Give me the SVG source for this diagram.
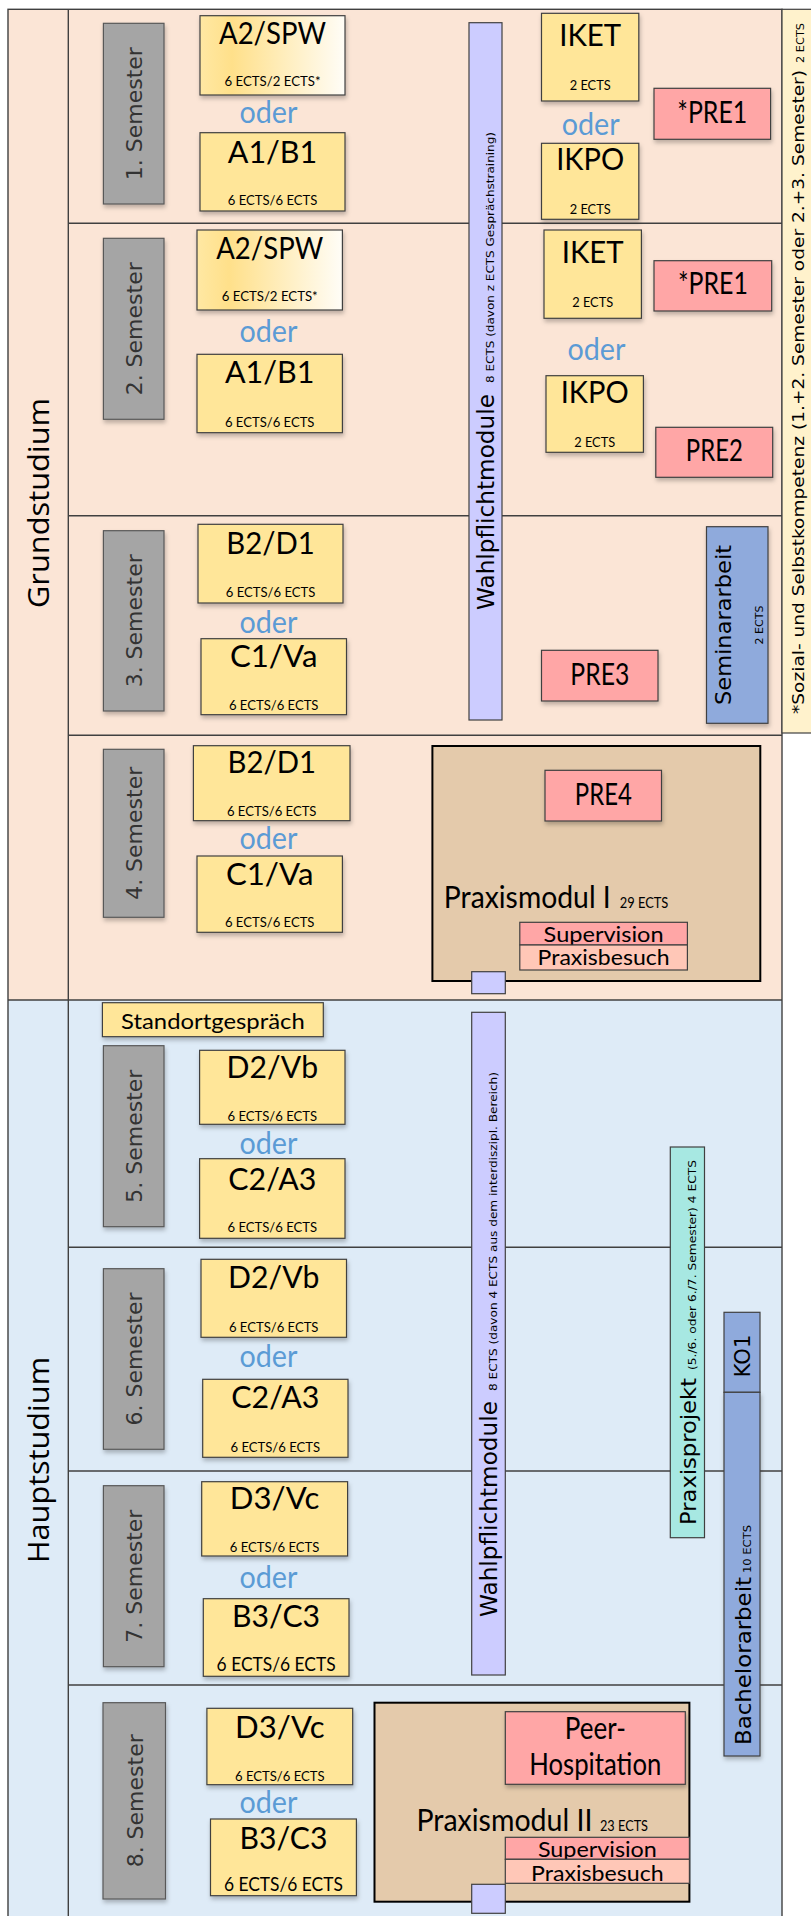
<svg xmlns="http://www.w3.org/2000/svg" width="811" height="1916" viewBox="0 0 811 1916">
<defs>
<linearGradient id="gradSPW" x1="0" y1="0" x2="1" y2="0">
<stop offset="0" stop-color="#FFE8A3"/>
<stop offset="0.22" stop-color="#FFE08A"/>
<stop offset="1" stop-color="#FFFDF7"/>
</linearGradient>
<filter id="sh" x="-20%" y="-20%" width="140%" height="150%">
<feDropShadow dx="1" dy="3" stdDeviation="2.2" flood-color="#000" flood-opacity="0.25"/>
</filter>
</defs>
<style>
.frame{fill:none;stroke:#404040;stroke-width:1.4}
.div{stroke:#404040;stroke-width:1.4}
.mod{fill:#FFE699;stroke:#404040;stroke-width:1.2;filter:url(#sh)}
.spw{fill:url(#gradSPW);stroke:#404040;stroke-width:1.2;filter:url(#sh)}
.gray{fill:#A5A5A5;stroke:#595959;stroke-width:1.2;filter:url(#sh)}
.pre{fill:#FFA6A6;stroke:#404040;stroke-width:1.2;filter:url(#sh)}
.sup{fill:#FFA6A6;stroke:#404040;stroke-width:1.2}
.besuch{fill:#FFC7B7;stroke:#404040;stroke-width:1.2}
.pm{fill:#E4CAAB;stroke:#000;stroke-width:2}
.wp{fill:#CCCCFF;stroke:#404040;stroke-width:1.2}
.blue{fill:#8FAADC;stroke:#404040;stroke-width:1.2}
.aqua{fill:#A7E8E2;stroke:#404040;stroke-width:1.2}
.big{font-family:Lato,"Open Sans",sans-serif;font-size:31px;text-anchor:middle;fill:#000}
.ects{font-family:Lato,"Open Sans",sans-serif;font-size:14px;text-anchor:middle;fill:#000}
.ects2{font-family:Lato,"Open Sans",sans-serif;font-size:18.5px;text-anchor:middle;fill:#000}
.oder{font-family:Lato,"Open Sans",sans-serif;font-size:30px;text-anchor:middle;fill:#5B9BD5}
.mid{font-family:Lato,"Open Sans",sans-serif;font-size:22px;text-anchor:middle;fill:#000}
.pmt{font-family:Lato,"Open Sans",sans-serif;font-size:30px;fill:#000}
.pms{font-family:Lato,"Open Sans",sans-serif;font-size:15px;fill:#000}
.sem{font-family:"DejaVu Sans",Verdana,sans-serif;font-size:22px;text-anchor:middle;fill:#333}
.rot{font-family:"DejaVu Sans",Verdana,sans-serif;fill:#000}
.study{font-family:"Open Sans","DejaVu Sans",sans-serif;font-size:30px;text-anchor:middle;fill:#000}
</style>

<g id="background">
<rect x="8" y="9.3" width="774" height="990.7" fill="#FBE5D6"/>
<rect x="8" y="1000" width="774" height="920" fill="#DEEBF7"/>
<rect x="8" y="9.3" width="774" height="1912" class="frame"/>
<line x1="68.3" y1="9.3" x2="68.3" y2="1916" class="div"/>
<line x1="68.3" y1="223.3" x2="782" y2="223.3" class="div"/>
<line x1="68.3" y1="515.7" x2="782" y2="515.7" class="div"/>
<line x1="68.3" y1="735.3" x2="782" y2="735.3" class="div"/>
<line x1="8" y1="1000" x2="782" y2="1000" class="div"/>
<line x1="68.3" y1="1247.3" x2="782" y2="1247.3" class="div"/>
<line x1="68.3" y1="1471" x2="782" y2="1471" class="div"/>
<line x1="68.3" y1="1685" x2="782" y2="1685" class="div"/>
</g>

<g id="connectors"></g>

<g id="label-grundstudium"><text class="study" transform="translate(49,503) rotate(-90)" textLength="210" lengthAdjust="spacingAndGlyphs">Grundstudium</text></g>
<g id="label-hauptstudium"><text class="study" transform="translate(49,1460) rotate(-90)" textLength="206" lengthAdjust="spacingAndGlyphs">Hauptstudium</text></g>

<g id="sidebar-sozial">
<rect x="782" y="9.3" width="34" height="723.7" fill="#FFF2CC" stroke="#404040" stroke-width="1.2"/>
<text class="rot" font-size="16.5" transform="translate(804,714) rotate(-90)" textLength="644" lengthAdjust="spacingAndGlyphs">*Sozial- und Selbstkompetenz (1.+2. Semester oder 2.+3. Semester)</text>
<text class="rot" font-size="11" transform="translate(804,63) rotate(-90)" textLength="40" lengthAdjust="spacingAndGlyphs">2 ECTS</text>
</g>

<g id="sem1"><rect x="103.4" y="23.3" width="60.6" height="180.7" class="gray"/><text class="sem" transform="translate(142,113.7) rotate(-90)">1. Semester</text></g>
<g id="sem2"><rect x="103.4" y="238.3" width="60.6" height="181" class="gray"/><text class="sem" transform="translate(142,328.8) rotate(-90)">2. Semester</text></g>
<g id="sem3"><rect x="103.4" y="530.7" width="60.6" height="180.3" class="gray"/><text class="sem" transform="translate(142,620.8) rotate(-90)">3. Semester</text></g>
<g id="sem4"><rect x="103.4" y="749.3" width="60.6" height="168" class="gray"/><text class="sem" transform="translate(142,833.3) rotate(-90)">4. Semester</text></g>
<g id="sem5"><rect x="103.4" y="1045.7" width="60.6" height="181" class="gray"/><text class="sem" transform="translate(142,1136.2) rotate(-90)">5. Semester</text></g>
<g id="sem6"><rect x="103.4" y="1268.7" width="60.6" height="180.6" class="gray"/><text class="sem" transform="translate(142,1359) rotate(-90)">6. Semester</text></g>
<g id="sem7"><rect x="103.4" y="1485.7" width="60.6" height="181" class="gray"/><text class="sem" transform="translate(142,1576.2) rotate(-90)">7. Semester</text></g>
<g id="sem8"><rect x="103" y="1702.7" width="62.5" height="196.3" class="gray"/><text class="sem" transform="translate(142.5,1800.8) rotate(-90)">8. Semester</text></g>

<g id="wahlpflicht1">
<rect x="469" y="22.7" width="33" height="697.3" class="wp"/>
<text class="rot" font-size="23" transform="translate(494,610) rotate(-90)" textLength="216" lengthAdjust="spacingAndGlyphs">Wahlpflichtmodule</text>
<text class="rot" font-size="11" transform="translate(494,383) rotate(-90)" textLength="251" lengthAdjust="spacingAndGlyphs">8 ECTS (davon z ECTS Gesprächstraining)</text>
</g>
<g id="wahlpflicht2">
<rect x="471.7" y="1012.3" width="33.6" height="662.7" class="wp"/>
<text class="rot" font-size="23" transform="translate(497,1617) rotate(-90)" textLength="216" lengthAdjust="spacingAndGlyphs">Wahlpflichtmodule</text>
<text class="rot" font-size="11" transform="translate(497,1391) rotate(-90)" textLength="319" lengthAdjust="spacingAndGlyphs">8 ECTS (davon 4 ECTS aus dem interdiszipl. Bereich)</text>
</g>

<g id="a2spw-1"><rect x="200" y="15.7" width="145" height="79.3" class="spw"/><text class="big" x="272.5" y="43.5" textLength="107" lengthAdjust="spacingAndGlyphs">A2/SPW</text><text class="ects" x="272.5" y="85.5" textLength="96" lengthAdjust="spacingAndGlyphs">6 ECTS/2 ECTS*</text></g>
<g id="oder-1a"><text class="oder" x="268.5" y="122.5" textLength="58" lengthAdjust="spacingAndGlyphs">oder</text></g>
<g id="a1b1-1"><rect x="200" y="132.7" width="145" height="78.3" class="mod"/><text class="big" x="272.5" y="162.5" textLength="89.5" lengthAdjust="spacingAndGlyphs">A1/B1</text><text class="ects" x="272.5" y="204.5" textLength="89.5" lengthAdjust="spacingAndGlyphs">6 ECTS/6 ECTS</text></g>
<g id="iket-1"><rect x="541.5" y="13.3" width="97.3" height="87.7" class="mod"/><text class="big" x="590.2" y="45.5" textLength="62" lengthAdjust="spacingAndGlyphs">IKET</text><text class="ects" x="590.2" y="89.5" textLength="41" lengthAdjust="spacingAndGlyphs">2 ECTS</text></g>
<g id="oder-1b"><text class="oder" x="590.7" y="134.5" textLength="58" lengthAdjust="spacingAndGlyphs">oder</text></g>
<g id="ikpo-1"><rect x="541.5" y="143.3" width="97.3" height="76" class="mod"/><text class="big" x="590.2" y="170" textLength="68" lengthAdjust="spacingAndGlyphs">IKPO</text><text class="ects" x="590.2" y="213.5" textLength="41" lengthAdjust="spacingAndGlyphs">2 ECTS</text></g>
<g id="pre1-1"><rect x="654" y="88.3" width="116.6" height="51" class="pre"/><text class="big" x="712.3" y="122.5" textLength="70" lengthAdjust="spacingAndGlyphs">*PRE1</text></g>

<g id="a2spw-2"><rect x="197" y="230" width="145.4" height="80" class="spw"/><text class="big" x="269.7" y="259" textLength="107" lengthAdjust="spacingAndGlyphs">A2/SPW</text><text class="ects" x="269.7" y="300.5" textLength="96" lengthAdjust="spacingAndGlyphs">6 ECTS/2 ECTS*</text></g>
<g id="oder-2a"><text class="oder" x="268.5" y="341.5" textLength="58" lengthAdjust="spacingAndGlyphs">oder</text></g>
<g id="a1b1-2"><rect x="197" y="354.3" width="145.4" height="78.4" class="mod"/><text class="big" x="269.7" y="382.5" textLength="89.5" lengthAdjust="spacingAndGlyphs">A1/B1</text><text class="ects" x="269.7" y="426.5" textLength="89.5" lengthAdjust="spacingAndGlyphs">6 ECTS/6 ECTS</text></g>
<g id="iket-2"><rect x="544" y="230" width="97.4" height="88.3" class="mod"/><text class="big" x="592.7" y="262.5" textLength="62" lengthAdjust="spacingAndGlyphs">IKET</text><text class="ects" x="592.7" y="306.5" textLength="41" lengthAdjust="spacingAndGlyphs">2 ECTS</text></g>
<g id="pre1-2"><rect x="654" y="260.7" width="117.7" height="50.3" class="pre"/><text class="big" x="712.9" y="294" textLength="70" lengthAdjust="spacingAndGlyphs">*PRE1</text></g>
<g id="oder-2b"><text class="oder" x="596.4" y="360" textLength="58" lengthAdjust="spacingAndGlyphs">oder</text></g>
<g id="ikpo-2"><rect x="546" y="375.7" width="97.4" height="76.6" class="mod"/><text class="big" x="594.7" y="402.5" textLength="68" lengthAdjust="spacingAndGlyphs">IKPO</text><text class="ects" x="594.7" y="446.5" textLength="41" lengthAdjust="spacingAndGlyphs">2 ECTS</text></g>
<g id="pre2"><rect x="655.8" y="427.3" width="116.9" height="50" class="pre"/><text class="big" x="714.3" y="461" textLength="57" lengthAdjust="spacingAndGlyphs">PRE2</text></g>

<g id="b2d1-3"><rect x="198" y="524.3" width="145" height="78.7" class="mod"/><text class="big" x="270.5" y="553.5" textLength="88.5" lengthAdjust="spacingAndGlyphs">B2/D1</text><text class="ects" x="270.5" y="596.5" textLength="89.5" lengthAdjust="spacingAndGlyphs">6 ECTS/6 ECTS</text></g>
<g id="oder-3"><text class="oder" x="268.5" y="632.5" textLength="58" lengthAdjust="spacingAndGlyphs">oder</text></g>
<g id="c1va-3"><rect x="201" y="638.7" width="145.5" height="76" class="mod"/><text class="big" x="273.7" y="667" textLength="87.5" lengthAdjust="spacingAndGlyphs">C1/Va</text><text class="ects" x="273.7" y="709.5" textLength="89.5" lengthAdjust="spacingAndGlyphs">6 ECTS/6 ECTS</text></g>
<g id="pre3"><rect x="541.5" y="650.3" width="116.5" height="50.7" class="pre"/><text class="big" x="599.8" y="685" textLength="59" lengthAdjust="spacingAndGlyphs">PRE3</text></g>
<g id="seminararbeit">
<rect x="706.5" y="526.7" width="61.5" height="196.6" class="blue" filter="url(#sh)"/>
<text class="rot" font-size="22" text-anchor="middle" transform="translate(731,625) rotate(-90)" textLength="160" lengthAdjust="spacingAndGlyphs">Seminararbeit</text>
<text class="rot" font-size="11" text-anchor="middle" transform="translate(763,625) rotate(-90)">2 ECTS</text>
</g>

<g id="b2d1-4"><rect x="193.4" y="745.7" width="156.6" height="75" class="mod"/><text class="big" x="271.7" y="772.5" textLength="88.5" lengthAdjust="spacingAndGlyphs">B2/D1</text><text class="ects" x="271.7" y="815.5" textLength="89.5" lengthAdjust="spacingAndGlyphs">6 ECTS/6 ECTS</text></g>
<g id="oder-4"><text class="oder" x="268.5" y="849" textLength="58" lengthAdjust="spacingAndGlyphs">oder</text></g>
<g id="c1va-4"><rect x="197" y="856" width="145.4" height="76.3" class="mod"/><text class="big" x="269.7" y="884.5" textLength="87.5" lengthAdjust="spacingAndGlyphs">C1/Va</text><text class="ects" x="269.7" y="927" textLength="89.5" lengthAdjust="spacingAndGlyphs">6 ECTS/6 ECTS</text></g>
<g id="praxismodul1">
<rect x="432.4" y="746" width="327.9" height="235" class="pm"/>
<text class="pmt" x="443.8" y="908.3" textLength="167" lengthAdjust="spacingAndGlyphs">Praxismodul I</text>
<text class="pms" x="619.7" y="908.3" textLength="48.6" lengthAdjust="spacingAndGlyphs">29 ECTS</text>
</g>
<g id="pre4"><rect x="545" y="770.3" width="116.5" height="50.7" class="pre"/><text class="big" x="603.3" y="805" textLength="57" lengthAdjust="spacingAndGlyphs">PRE4</text></g>
<g id="supervision1"><rect x="519.8" y="922.3" width="167.6" height="22.7" class="sup"/><text class="mid" font-size="21" x="603.6" y="941.5" textLength="120" lengthAdjust="spacingAndGlyphs">Supervision</text></g>
<g id="praxisbesuch1"><rect x="519.8" y="945" width="167.6" height="25" class="besuch"/><text class="mid" font-size="21.5" x="603.6" y="965" textLength="132" lengthAdjust="spacingAndGlyphs">Praxisbesuch</text></g>
<g id="wp-marker1"><rect x="471.7" y="971.7" width="33.6" height="22" class="wp"/></g>

<g id="standortgespraech"><rect x="102.4" y="1002.7" width="220.9" height="34" class="mod"/><text class="mid" font-size="25" x="212.9" y="1028.5" textLength="183.6" lengthAdjust="spacingAndGlyphs">Standortgespräch</text></g>
<g id="d2vb-5"><rect x="199.6" y="1050.3" width="145.4" height="74" class="mod"/><text class="big" x="272.3" y="1077.5" textLength="91.5" lengthAdjust="spacingAndGlyphs">D2/Vb</text><text class="ects" x="272.3" y="1121" textLength="89.5" lengthAdjust="spacingAndGlyphs">6 ECTS/6 ECTS</text></g>
<g id="oder-5"><text class="oder" x="268.5" y="1153.5" textLength="58" lengthAdjust="spacingAndGlyphs">oder</text></g>
<g id="c2a3-5"><rect x="199.6" y="1158.7" width="145.4" height="79.6" class="mod"/><text class="big" x="272.3" y="1189.5" textLength="88" lengthAdjust="spacingAndGlyphs">C2/A3</text><text class="ects" x="272.3" y="1232" textLength="89.5" lengthAdjust="spacingAndGlyphs">6 ECTS/6 ECTS</text></g>
<g id="praxisprojekt">
<rect x="670.3" y="1147" width="34.2" height="390.7" class="aqua"/>
<text class="rot" font-size="22" transform="translate(696,1525) rotate(-90)" textLength="147" lengthAdjust="spacingAndGlyphs">Praxisprojekt</text>
<text class="rot" font-size="11" transform="translate(696,1370) rotate(-90)" textLength="210" lengthAdjust="spacingAndGlyphs">(5./6. oder 6./7. Semester) 4 ECTS</text>
</g>

<g id="d2vb-6"><rect x="201" y="1259.3" width="145.5" height="78" class="mod"/><text class="big" x="273.7" y="1287.5" textLength="91.5" lengthAdjust="spacingAndGlyphs">D2/Vb</text><text class="ects" x="273.7" y="1332" textLength="89.5" lengthAdjust="spacingAndGlyphs">6 ECTS/6 ECTS</text></g>
<g id="oder-6"><text class="oder" x="268.5" y="1366.5" textLength="58" lengthAdjust="spacingAndGlyphs">oder</text></g>
<g id="c2a3-6"><rect x="202.7" y="1379.3" width="145.3" height="78" class="mod"/><text class="big" x="275.3" y="1408" textLength="88" lengthAdjust="spacingAndGlyphs">C2/A3</text><text class="ects" x="275.3" y="1452" textLength="89.5" lengthAdjust="spacingAndGlyphs">6 ECTS/6 ECTS</text></g>
<g id="ko1"><rect x="724" y="1312.3" width="36" height="80" class="blue"/><text class="rot" font-size="21" text-anchor="middle" transform="translate(750,1356) rotate(-90)">KO1</text></g>
<g id="bachelorarbeit">
<rect x="724" y="1392.3" width="36" height="363.7" class="blue" filter="url(#sh)"/>
<text class="rot" font-size="21" transform="translate(751,1745) rotate(-90)" textLength="168" lengthAdjust="spacingAndGlyphs">Bachelorarbeit</text>
<text class="rot" font-size="11" transform="translate(751,1573) rotate(-90)" textLength="48" lengthAdjust="spacingAndGlyphs">10 ECTS</text>
</g>

<g id="d3vc-7"><rect x="201.7" y="1481.7" width="145.9" height="74.3" class="mod"/><text class="big" x="274.6" y="1509" textLength="89.5" lengthAdjust="spacingAndGlyphs">D3/Vc</text><text class="ects" x="274.6" y="1552" textLength="89.5" lengthAdjust="spacingAndGlyphs">6 ECTS/6 ECTS</text></g>
<g id="oder-7"><text class="oder" x="268.5" y="1587.5" textLength="58" lengthAdjust="spacingAndGlyphs">oder</text></g>
<g id="b3c3-7"><rect x="203.3" y="1598.7" width="145.7" height="77.6" class="mod"/><text class="big" x="276.1" y="1626.5" textLength="88" lengthAdjust="spacingAndGlyphs">B3/C3</text><text class="ects2" x="276.1" y="1671" textLength="119" lengthAdjust="spacingAndGlyphs">6 ECTS/6 ECTS</text></g>

<g id="d3vc-8"><rect x="206.9" y="1708.3" width="145.8" height="76.4" class="mod"/><text class="big" x="279.8" y="1737.5" textLength="89.5" lengthAdjust="spacingAndGlyphs">D3/Vc</text><text class="ects" x="279.8" y="1780.5" textLength="89.5" lengthAdjust="spacingAndGlyphs">6 ECTS/6 ECTS</text></g>
<g id="oder-8"><text class="oder" x="268.5" y="1812.5" textLength="58" lengthAdjust="spacingAndGlyphs">oder</text></g>
<g id="b3c3-8"><rect x="210.5" y="1819" width="145.9" height="76.7" class="mod"/><text class="big" x="283.4" y="1848.5" textLength="88" lengthAdjust="spacingAndGlyphs">B3/C3</text><text class="ects2" x="283.4" y="1890.7" textLength="119" lengthAdjust="spacingAndGlyphs">6 ECTS/6 ECTS</text></g>
<g id="praxismodul2">
<rect x="374.5" y="1702.7" width="314.9" height="199" class="pm"/>
<text class="pmt" x="416.4" y="1830.7" textLength="176" lengthAdjust="spacingAndGlyphs">Praxismodul II</text>
<text class="pms" x="600" y="1830.7" textLength="48" lengthAdjust="spacingAndGlyphs">23 ECTS</text>
</g>
<g id="peer-hospitation"><rect x="505.3" y="1711.7" width="180" height="72.6" class="pre"/><text class="big" font-size="25" x="595.3" y="1739" textLength="61" lengthAdjust="spacingAndGlyphs">Peer-</text><text class="big" font-size="25" x="595.3" y="1775" textLength="132" lengthAdjust="spacingAndGlyphs">Hospitation</text></g>
<g id="supervision2"><rect x="505.3" y="1837.3" width="184.1" height="22" class="sup"/><text class="mid" font-size="21" x="597.4" y="1856.5" textLength="119" lengthAdjust="spacingAndGlyphs">Supervision</text></g>
<g id="praxisbesuch2"><rect x="505.3" y="1859.3" width="184.1" height="24" class="besuch"/><text class="mid" font-size="21.5" x="597.4" y="1880.5" textLength="132.7" lengthAdjust="spacingAndGlyphs">Praxisbesuch</text></g>
<g id="wp-marker2"><rect x="471.7" y="1884.3" width="33.6" height="29" class="wp"/></g>
</svg>
